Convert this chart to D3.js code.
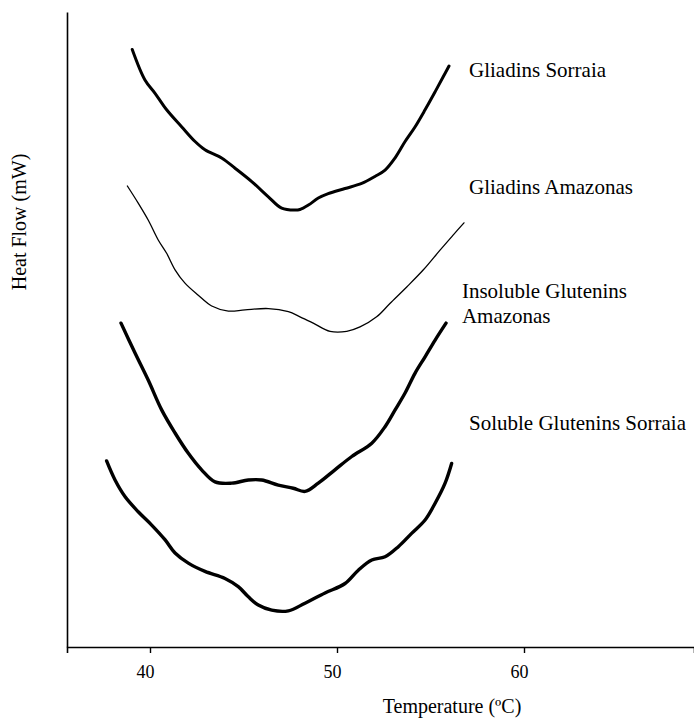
<!DOCTYPE html>
<html>
<head>
<meta charset="utf-8">
<script src="https://cdn.jsdelivr.net/npm/d3@7"></script>
<style>
  html, body { margin: 0; padding: 0; background: #fff; }
  svg { display: block; }
  text { font-family: "Liberation Serif", "DejaVu Serif", serif; fill: #000; }
</style>
</head>
<body>
<svg id="chart" width="694" height="718"></svg>
<script>
// ---- Data (temperature °C, relative heat flow, arbitrary units) ----
const xTicks = [40, 50, 60];

const gliadinsSorraiaT = [39.05, 39.73, 40.27, 40.89, 41.70, 42.41, 42.94, 43.83, 44.55, 45.44, 46.33, 47.04, 47.75, 48.02, 48.47, 49.00, 49.53, 50.43, 51.32, 52.03, 52.57, 53.10, 53.64, 54.17, 54.71, 55.24, 55.68, 55.99];
const gliadinsSorraiaV = [94.1, 89.3, 87.2, 84.6, 81.9, 79.6, 78.3, 77.0, 75.4, 73.3, 70.9, 69.1, 68.8, 68.9, 69.6, 70.7, 71.4, 72.2, 73.0, 74.1, 75.1, 77.0, 79.6, 81.9, 84.6, 87.4, 89.8, 91.5];

const gliadinsAmazonasT = [38.79, 39.37, 39.91, 40.44, 40.89, 41.34, 41.87, 42.58, 43.30, 44.19, 45.08, 46.33, 47.40, 48.02, 48.73, 49.63, 50.52, 51.23, 52.12, 52.83, 53.73, 54.62, 55.51, 56.22, 56.79];
const gliadinsAmazonasV = [72.6, 69.9, 67.2, 64.1, 62.0, 59.4, 57.3, 55.4, 53.7, 52.9, 53.1, 53.3, 52.8, 52.0, 51.0, 49.7, 49.7, 50.4, 52.0, 54.1, 56.7, 59.4, 62.5, 64.9, 66.8];

const insolubleAmazonasT = [38.45, 39.20, 39.91, 40.63, 41.34, 42.05, 42.76, 43.48, 44.37, 45.26, 45.97, 46.86, 47.66, 48.29, 49.00, 49.89, 50.79, 51.86, 52.57, 53.10, 53.64, 54.17, 54.71, 55.24, 55.83];
const insolubleAmazonasV = [51.0, 46.3, 42.0, 37.3, 33.7, 30.5, 27.9, 26.0, 25.8, 26.3, 26.3, 25.5, 25.0, 24.5, 25.8, 27.9, 30.0, 32.1, 34.7, 37.3, 40.0, 43.1, 45.7, 48.3, 51.0];

const solubleSorraiaT = [37.68, 38.13, 38.66, 39.37, 40.09, 40.80, 41.34, 42.05, 42.94, 44.01, 44.72, 45.26, 45.79, 46.51, 47.40, 48.29, 49.36, 50.43, 51.14, 51.86, 52.57, 53.28, 53.99, 54.71, 55.24, 55.78, 56.13];
const solubleSorraiaV = [29.3, 26.3, 23.7, 21.3, 19.2, 16.9, 14.8, 13.2, 11.9, 10.8, 9.5, 7.9, 6.6, 5.8, 5.7, 6.9, 8.5, 10.0, 12.1, 13.7, 14.2, 15.8, 17.9, 20.0, 22.6, 25.8, 28.9];

const seriesNames = [["Gliadins Sorraia"], ["Gliadins Amazonas"], ["Insoluble Glutenins", "Amazonas"], ["Soluble Glutenins Sorraia"]];
const seriesT = [gliadinsSorraiaT, gliadinsAmazonasT, insolubleAmazonasT, solubleSorraiaT];
const seriesV = [gliadinsSorraiaV, gliadinsAmazonasV, insolubleAmazonasV, solubleSorraiaV];
// label anchor (temperature, heat flow) for each series
const labelT = [57.06, 57.06, 56.68, 57.06];
const labelV = [89.7, 71.4, 54.9, 34.2];

// ---- Layout ----
const svg = d3.select("#chart");
const x0 = 67, x1 = 694, yTop = 12, yBot = 647;
const pxPerDeg = 18.7;
const x = d3.scaleLinear()
  .domain([40 - (150 - x0) / pxPerDeg, 40 + (x1 - 150) / pxPerDeg])
  .range([x0, x1]);
const y = d3.scaleLinear().domain([0, 100]).range([yBot, yTop]);

// axes
const xAxis = d3.axisBottom(x).tickValues(xTicks).tickSize(6).tickSizeOuter(6).tickPadding(12).tickFormat(d3.format("d"));
const gx = svg.append("g").attr("transform", `translate(0,${yBot})`).call(xAxis);
gx.select(".domain").attr("stroke", "#000").attr("stroke-width", 1.6);
gx.selectAll(".tick line").attr("stroke", "#000").attr("stroke-width", 1.4);
gx.selectAll(".tick text").attr("font-size", 18).attr("font-family", "Liberation Serif").attr("dx", -5);

const yAxis = d3.axisLeft(y).tickValues([]).tickSizeOuter(0);
const gy = svg.append("g").attr("transform", `translate(${x0},0)`).call(yAxis);
gy.select(".domain").attr("stroke", "#000").attr("stroke-width", 1.6);

// axis titles
svg.append("text").attr("x", 452).attr("y", 713).attr("text-anchor", "middle")
  .attr("font-size", 20).text("Temperature (ºC)");
svg.append("text").attr("transform", "translate(26,222) rotate(-90)").attr("text-anchor", "middle")
  .attr("font-size", 20).text("Heat Flow (mW)");

// curves
const widths = [3, 1.3, 3.4, 3.4];
const line = d3.line().x(d => x(d[0])).y(d => y(d[1])).curve(d3.curveCatmullRom.alpha(0.5));
seriesT.forEach((ts, i) => {
  const pts = ts.map((t, j) => [t, seriesV[i][j]]);
  svg.append("path").datum(pts)
    .attr("d", line)
    .attr("fill", "none")
    .attr("stroke", "#000")
    .attr("stroke-width", widths[i])
    .attr("stroke-linejoin", "round")
    .attr("stroke-linecap", "round");
});

// series labels
seriesNames.forEach((lines, i) => {
  const t = svg.append("text").attr("x", x(labelT[i])).attr("y", y(labelV[i])).attr("font-size", 21);
  lines.forEach((s, k) => {
    t.append("tspan").attr("x", x(labelT[i])).attr("dy", k === 0 ? 0 : 24.5).text(s);
  });
});
</script>
</body>
</html>
